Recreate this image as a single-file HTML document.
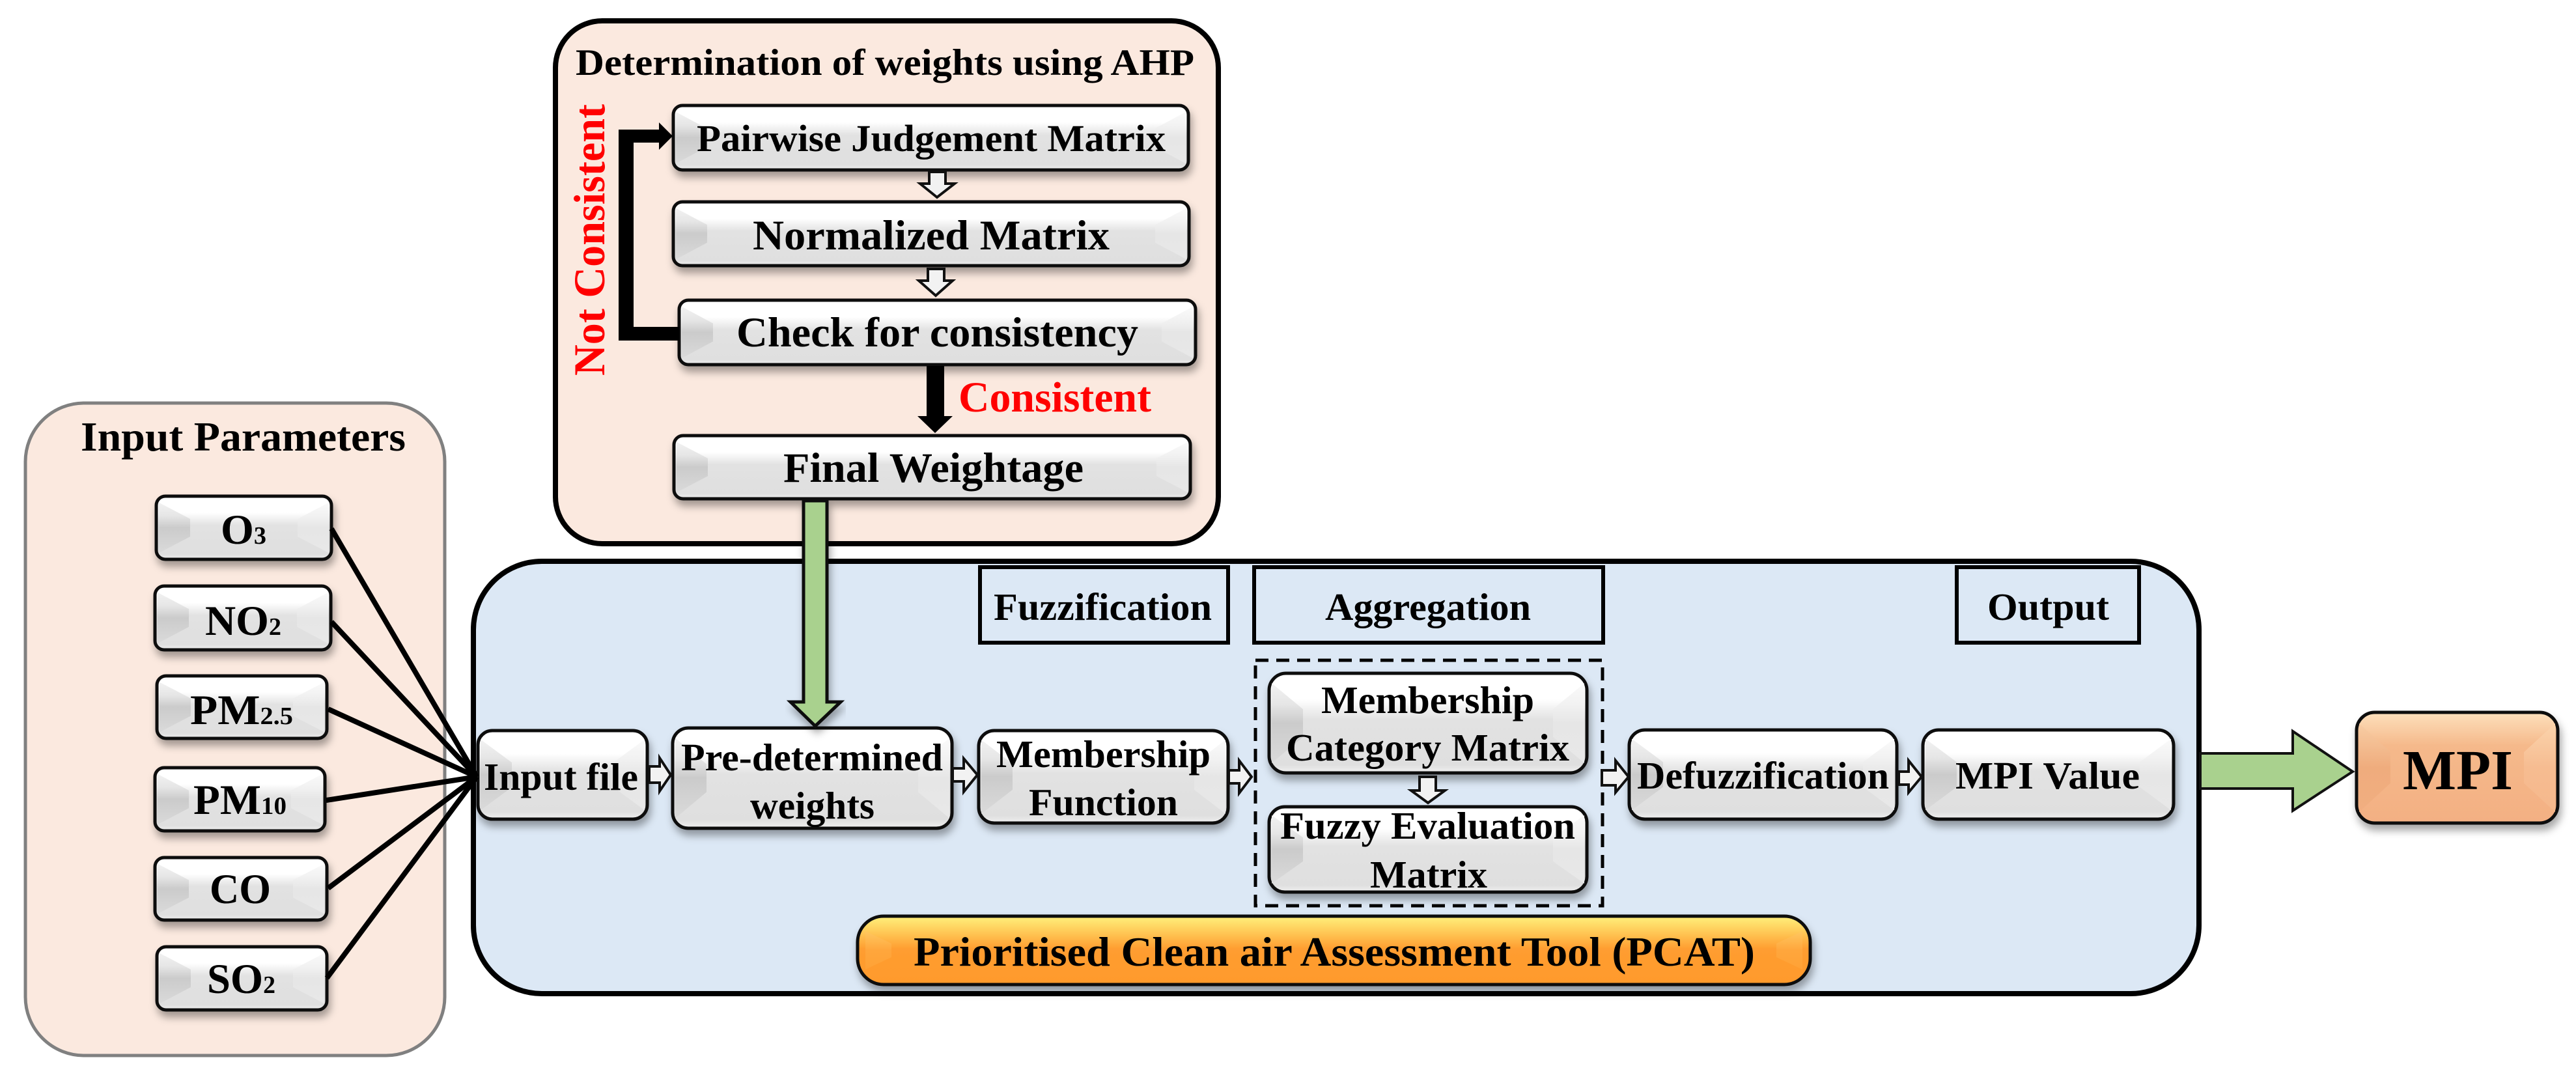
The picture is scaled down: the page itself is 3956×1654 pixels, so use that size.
<!DOCTYPE html>
<html lang="en">
<head>
<meta charset="utf-8">
<title>MPI diagram</title>
<style>
html,body{margin:0;padding:0;background:#fff;width:3956px;height:1654px;overflow:hidden}
svg{display:block}
text{font-family:"Liberation Serif",serif;font-weight:bold;fill:#000}
.b{stroke:#111;stroke-width:5;fill:url(#gb);filter:url(#sh)}
.w{fill:#f2f2f2;stroke:#111;stroke-width:4}
.r{fill:none;stroke:#000;stroke-width:6}
.red{fill:#f00}
</style>
</head>
<body>
<svg xmlns="http://www.w3.org/2000/svg" width="3956" height="1654" viewBox="0 0 3956 1654">
<defs>
<linearGradient id="gb" x1="0" y1="0" x2="0" y2="1">
<stop offset="0" stop-color="#fff"/><stop offset=".26" stop-color="#fff"/><stop offset=".46" stop-color="#e2e2e2"/><stop offset=".92" stop-color="#dfdfdf"/><stop offset="1" stop-color="#f0f0f0"/>
</linearGradient>
<linearGradient id="gl" x1="0" y1="0" x2="0" y2="1"><stop offset="0" stop-color="#f2f2f2"/><stop offset=".26" stop-color="#e6e6e6"/><stop offset=".5" stop-color="#cbcbcb"/><stop offset="1" stop-color="#dadada"/></linearGradient>
<linearGradient id="gr" x1="0" y1="0" x2="0" y2="1"><stop offset="0" stop-color="#fafafa"/><stop offset=".26" stop-color="#f2f2f2"/><stop offset=".5" stop-color="#e6e6e6"/><stop offset="1" stop-color="#e8e8e8"/></linearGradient>
<linearGradient id="go" x1="0" y1="0" x2="0" y2="1">
<stop offset="0" stop-color="#fff07c"/><stop offset=".12" stop-color="#ffdc68"/><stop offset=".48" stop-color="#ff9d30"/><stop offset="1" stop-color="#ff9a2c"/>
</linearGradient>
<linearGradient id="gol" x1="0" y1="0" x2="0" y2="1"><stop offset="0" stop-color="#ffc860"/><stop offset=".5" stop-color="#ffa63c"/><stop offset="1" stop-color="#ffa236"/></linearGradient>
<linearGradient id="gm" x1="0" y1="0" x2="0" y2="1">
<stop offset="0" stop-color="#fde0bc"/><stop offset=".3" stop-color="#f5b98b"/><stop offset="1" stop-color="#f3b083"/>
</linearGradient>
<linearGradient id="gml" x1="0" y1="0" x2="0" y2="1"><stop offset="0" stop-color="#f8cda4"/><stop offset=".5" stop-color="#efac7d"/><stop offset="1" stop-color="#f1ae80"/></linearGradient>
<linearGradient id="gmr" x1="0" y1="0" x2="0" y2="1"><stop offset="0" stop-color="#fbd4ac"/><stop offset=".5" stop-color="#f6bc91"/><stop offset="1" stop-color="#f5b88c"/></linearGradient>
<filter id="sh" x="-10%" y="-10%" width="120%" height="135%"><feDropShadow dx="3" dy="9" stdDeviation="6" flood-color="#000" flood-opacity=".35"/></filter>
<polygon id="L" points="4,10 52,36 52,64 4,90" fill="url(#gl)"/>
<polygon id="R" points="-4,10 -52,36 -52,64 -4,90" fill="url(#gr)"/>
<polygon id="OL" points="12,22 52,40 52,60 12,78" fill="url(#gol)"/>
<polygon id="MR" points="-4,10 -52,36 -52,64 -4,90" fill="url(#gmr)"/>
<polygon id="ML" points="4,10 52,36 52,64 4,90" fill="url(#gml)"/>
</defs>

<!-- panels -->
<rect x="39" y="619" width="644" height="1002" rx="90" fill="#fbe9df" stroke="#808080" stroke-width="5"/>
<rect x="853" y="32" width="1018" height="803" rx="72" fill="#fbe9df" stroke="#000" stroke-width="8"/>
<rect x="727" y="862" width="2650" height="664" rx="105" fill="#dce8f5" stroke="#000" stroke-width="8"/>

<text x="884" y="115" font-size="57" textLength="950" lengthAdjust="spacingAndGlyphs">Determination of weights using AHP</text>

<!-- AHP boxes -->
<rect class="b" x="1034" y="162" width="791" height="99" rx="14"/>
<use href="#L" transform="translate(1034,162) scale(1,.99)"/><use href="#R" transform="translate(1825,162) scale(1,.99)"/>
<text x="1070" y="232" font-size="58" textLength="720" lengthAdjust="spacingAndGlyphs">Pairwise Judgement Matrix</text>

<rect class="b" x="1034" y="310" width="792" height="98" rx="14"/>
<use href="#L" transform="translate(1034,310) scale(1,.98)"/><use href="#R" transform="translate(1826,310) scale(1,.98)"/>
<text x="1156" y="383" font-size="65" textLength="548" lengthAdjust="spacingAndGlyphs">Normalized Matrix</text>

<rect class="b" x="1043" y="461" width="793" height="99" rx="14"/>
<use href="#L" transform="translate(1043,461) scale(1,.99)"/><use href="#R" transform="translate(1836,461) scale(1,.99)"/>
<text x="1131" y="532" font-size="65" textLength="617" lengthAdjust="spacingAndGlyphs">Check for consistency</text>

<rect class="b" x="1035" y="669" width="793" height="97" rx="14"/>
<use href="#L" transform="translate(1035,669) scale(1,.97)"/><use href="#R" transform="translate(1828,669) scale(1,.97)"/>
<text x="1203" y="740" font-size="65" textLength="461" lengthAdjust="spacingAndGlyphs">Final Weightage</text>

<!-- AHP arrows -->
<polygon points="1043,523 950,523 950,199 1012,199 1012,188 1033,209 1012,230 1012,219 973,219 973,502 1043,502" fill="#000"/>
<polygon points="1423,562 1450,562 1450,639 1463,639 1436,665 1409,639 1423,639" fill="#000"/>
<polygon class="w" points="1427,264 1452,264 1452,282 1466,282 1439,303 1413,282 1427,282"/>
<polygon class="w" points="1425,413 1450,413 1450,431 1463,431 1437,454 1411,431 1425,431"/>
<text class="red" x="1472" y="632" font-size="66" textLength="296" lengthAdjust="spacingAndGlyphs">Consistent</text>
<text class="red" transform="translate(928,577) rotate(-90)" x="0" y="0" font-size="68" textLength="417" lengthAdjust="spacingAndGlyphs">Not Consistent</text>

<!-- Input parameters -->
<text x="124" y="692" font-size="63" textLength="499" lengthAdjust="spacingAndGlyphs">Input Parameters</text>

<rect class="b" x="240" y="762" width="269" height="97" rx="14"/>
<use href="#L" transform="translate(240,762) scale(1,.97)"/><use href="#R" transform="translate(509,762) scale(1,.97)"/>
<text x="339" y="835" font-size="65" textLength="70" lengthAdjust="spacingAndGlyphs">O<tspan font-size="38">3</tspan></text>

<rect class="b" x="238" y="900" width="270" height="98" rx="14"/>
<use href="#L" transform="translate(238,900) scale(1,.98)"/><use href="#R" transform="translate(508,900) scale(1,.98)"/>
<text x="315" y="975" font-size="65" textLength="117" lengthAdjust="spacingAndGlyphs">NO<tspan font-size="38">2</tspan></text>

<rect class="b" x="241" y="1038" width="261" height="96" rx="14"/>
<use href="#L" transform="translate(241,1038) scale(1,.96)"/><use href="#R" transform="translate(502,1038) scale(1,.96)"/>
<text x="292" y="1112" font-size="65" textLength="158" lengthAdjust="spacingAndGlyphs">PM<tspan font-size="38">2.5</tspan></text>

<rect class="b" x="238" y="1179" width="261" height="97" rx="14"/>
<use href="#L" transform="translate(238,1179) scale(1,.97)"/><use href="#R" transform="translate(499,1179) scale(1,.97)"/>
<text x="297" y="1250" font-size="65" textLength="143" lengthAdjust="spacingAndGlyphs">PM<tspan font-size="38">10</tspan></text>

<rect class="b" x="238" y="1317" width="264" height="96" rx="14"/>
<use href="#L" transform="translate(238,1317) scale(1,.96)"/><use href="#R" transform="translate(502,1317) scale(1,.96)"/>
<text x="322" y="1387" font-size="65" textLength="94" lengthAdjust="spacingAndGlyphs">CO</text>

<rect class="b" x="241" y="1454" width="261" height="97" rx="14"/>
<use href="#L" transform="translate(241,1454) scale(1,.97)"/><use href="#R" transform="translate(502,1454) scale(1,.97)"/>
<text x="318" y="1525" font-size="65" textLength="105" lengthAdjust="spacingAndGlyphs">SO<tspan font-size="38">2</tspan></text>

<!-- label rects -->
<rect class="r" x="1505" y="871" width="381" height="116"/>
<text x="1526" y="952" font-size="59" textLength="335" lengthAdjust="spacingAndGlyphs">Fuzzification</text>
<rect class="r" x="1926" y="871" width="536" height="116"/>
<text x="2035" y="952" font-size="59" textLength="316" lengthAdjust="spacingAndGlyphs">Aggregation</text>
<rect class="r" x="3005" y="871" width="280" height="116"/>
<text x="3052" y="952" font-size="59" textLength="187" lengthAdjust="spacingAndGlyphs">Output</text>

<!-- dashed -->
<rect x="1928" y="1014" width="533" height="377" fill="none" stroke="#000" stroke-width="5" stroke-dasharray="20 12"/>

<!-- process boxes -->
<rect class="b" x="734" y="1122" width="260" height="136" rx="22"/>
<use href="#L" transform="translate(734,1122) scale(1,1.36)"/><use href="#R" transform="translate(994,1122) scale(1,1.36)"/>
<text x="743" y="1213" font-size="59" textLength="237" lengthAdjust="spacingAndGlyphs">Input file</text>

<rect class="b" x="1033" y="1118" width="429" height="154" rx="24"/>
<use href="#L" transform="translate(1033,1118) scale(1,1.54)"/><use href="#R" transform="translate(1462,1118) scale(1,1.54)"/>
<text x="1046" y="1183" font-size="59" textLength="402" lengthAdjust="spacingAndGlyphs">Pre-determined</text>
<text x="1152" y="1257" font-size="59" textLength="191" lengthAdjust="spacingAndGlyphs">weights</text>

<rect class="b" x="1503" y="1122" width="383" height="142" rx="24"/>
<use href="#L" transform="translate(1503,1122) scale(1,1.42)"/><use href="#R" transform="translate(1886,1122) scale(1,1.42)"/>
<text x="1530" y="1178" font-size="59" textLength="329" lengthAdjust="spacingAndGlyphs">Membership</text>
<text x="1580" y="1252" font-size="59" textLength="229" lengthAdjust="spacingAndGlyphs">Function</text>

<rect class="b" x="1949" y="1034" width="488" height="153" rx="26"/>
<use href="#L" transform="translate(1949,1034) scale(1,1.53)"/><use href="#R" transform="translate(2437,1034) scale(1,1.53)"/>
<text x="2029" y="1095" font-size="59" textLength="327" lengthAdjust="spacingAndGlyphs">Membership</text>
<text x="1975" y="1168" font-size="59" textLength="435" lengthAdjust="spacingAndGlyphs">Category Matrix</text>

<rect class="b" x="1949" y="1239" width="488" height="131" rx="24"/>
<use href="#L" transform="translate(1949,1239) scale(1,1.31)"/><use href="#R" transform="translate(2437,1239) scale(1,1.31)"/>
<text x="1966" y="1288" font-size="59" textLength="453" lengthAdjust="spacingAndGlyphs">Fuzzy Evaluation</text>
<text x="2104" y="1363" font-size="59" textLength="180" lengthAdjust="spacingAndGlyphs">Matrix</text>

<rect class="b" x="2502" y="1121" width="411" height="137" rx="24"/>
<use href="#L" transform="translate(2502,1121) scale(1,1.37)"/><use href="#R" transform="translate(2913,1121) scale(1,1.37)"/>
<text x="2514" y="1211" font-size="59" textLength="387" lengthAdjust="spacingAndGlyphs">Defuzzification</text>

<rect class="b" x="2953" y="1121" width="385" height="137" rx="24"/>
<use href="#L" transform="translate(2953,1121) scale(1,1.37)"/><use href="#R" transform="translate(3338,1121) scale(1,1.37)"/>
<text x="3003" y="1211" font-size="59" textLength="283" lengthAdjust="spacingAndGlyphs">MPI Value</text>

<!-- PCAT -->
<rect x="1317" y="1407" width="1463" height="105" rx="40" fill="url(#go)" stroke="#111" stroke-width="5" filter="url(#sh)"/>
<use href="#OL" transform="translate(1317,1407) scale(1,1.05)"/><use href="#OL" transform="translate(2780,1407) scale(-1,1.05)"/>
<text x="1403" y="1483" font-size="64" textLength="1292" lengthAdjust="spacingAndGlyphs">Prioritised Clean air Assessment Tool (PCAT)</text>

<!-- small white arrows -->
<polygon class="w" points="997,1177 1013,1177 1013,1164 1030,1190 1013,1215 1013,1202 997,1202"/>
<polygon class="w" points="1463,1180 1480,1180 1480,1165 1501,1190 1480,1216 1480,1200 1463,1200"/>
<polygon class="w" points="1887,1183 1903,1183 1903,1168 1922,1193 1903,1218 1903,1203 1887,1203"/>
<polygon class="w" points="2180,1193 2205,1193 2205,1214 2219,1214 2193,1233 2167,1214 2180,1214"/>
<polygon class="w" points="2460,1183 2481,1183 2481,1168 2501,1193 2481,1217 2481,1206 2460,1206"/>
<polygon class="w" points="2916,1185 2931,1185 2931,1168 2951,1193 2931,1217 2931,1205 2916,1205"/>

<!-- input lines -->
<g stroke="#000" stroke-width="8" fill="none">
<line x1="509" y1="812" x2="732" y2="1193"/>
<line x1="509" y1="955" x2="732" y2="1193"/>
<line x1="504" y1="1089" x2="732" y2="1193"/>
<line x1="501" y1="1229" x2="732" y2="1193"/>
<line x1="504" y1="1364" x2="732" y2="1193"/>
<line x1="502" y1="1502" x2="732" y2="1193"/>
</g>

<!-- green arrows -->
<polygon points="1234,769 1270,769 1270,1078 1291,1078 1252,1115 1214,1078 1234,1078" fill="#a9d18e" stroke="#111" stroke-width="5" filter="url(#sh)"/>
<polygon points="3379,1157 3521,1157 3521,1123 3613,1185 3521,1245 3521,1211 3379,1211" fill="#a9d18e" stroke="#111" stroke-width="4"/>

<!-- MPI -->
<rect x="3619" y="1094" width="309" height="170" rx="28" fill="url(#gm)" stroke="#111" stroke-width="5" filter="url(#sh)"/>
<use href="#ML" transform="translate(3619,1094) scale(1,1.7)"/><use href="#MR" transform="translate(3928,1094) scale(1,1.7)"/>
<text x="3690" y="1212" font-size="87" textLength="169" lengthAdjust="spacingAndGlyphs">MPI</text>
</svg>
</body>
</html>
